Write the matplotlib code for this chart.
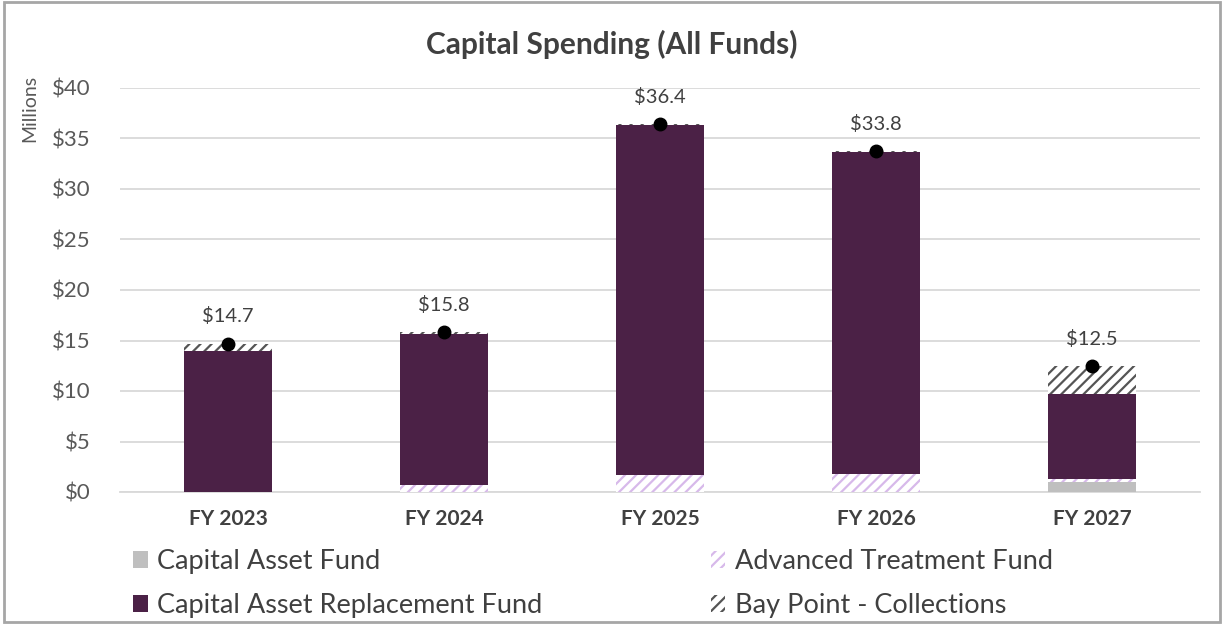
import matplotlib
matplotlib.use("Agg")
import matplotlib.pyplot as plt
from matplotlib.patches import Patch, Rectangle

plt.rcParams['font.family'] = ['Lato', 'DejaVu Sans']
plt.rcParams['hatch.linewidth'] = 1.6

years = ["FY 2023", "FY 2024", "FY 2025", "FY 2026", "FY 2027"]
capital_asset = [0.0, 0.0, 0.0, 0.0, 1.0]
advanced_treatment = [0.0, 0.7, 1.7, 1.8, 0.3]
replacement = [14.0, 14.9, 34.6, 31.9, 8.4]
bay_point = [0.7, 0.2, 0.1, 0.1, 2.8]
totals = [14.7, 15.8, 36.4, 33.8, 12.5]
y_ticks = [0, 5, 10, 15, 20, 25, 30, 35, 40]

plum = "#4b2146"
gray = "#bfbfbf"
lavender = "#d7b9ea"
hatch_gray = "#555555"

fig = plt.figure(figsize=(12.24, 6.24), dpi=100)
ax = fig.add_axes([120 / 1224, 1 - 492 / 624, 1080 / 1224, 404 / 624])

x = list(range(len(years)))
w = 0.41

b0 = [0.0] * len(years)
ax.bar(x, capital_asset, w, bottom=b0, color=gray, linewidth=0, zorder=3)
b1 = [a + b for a, b in zip(b0, capital_asset)]
ax.bar(x, advanced_treatment, w, bottom=b1, color="white", edgecolor=lavender,
       hatch="///", linewidth=0, zorder=3)
b2 = [a + b for a, b in zip(b1, advanced_treatment)]
ax.bar(x, replacement, w, bottom=b2, color=plum, linewidth=0, zorder=3)
b3 = [a + b for a, b in zip(b2, replacement)]
ax.bar(x, bay_point, w, bottom=b3, color="white", edgecolor=hatch_gray,
       hatch="///", linewidth=0, zorder=3)

ax.plot(x, totals, linestyle="none", marker="o", markersize=9,
        color="black", zorder=5)
for xi, t in zip(x, totals):
    ax.annotate(f"${t:.1f}", (xi, t), xytext=(0, 13), textcoords="offset points",
                ha="center", va="bottom", fontsize=14.5, color="#404040")

ax.set_xlim(-0.5, len(years) - 0.5)
ax.set_ylim(0, 40)
ax.set_yticks(y_ticks)
ax.set_yticklabels([f"${v}" for v in y_ticks], fontsize=16, color="#595959")
ax.set_xticks(x)
ax.set_xticklabels(years, fontsize=15, fontweight="bold", color="#404040")
ax.tick_params(axis="both", length=0)
ax.tick_params(axis="y", pad=21)
ax.tick_params(axis="x", pad=12)
ax.grid(axis="y", color="#d9d9d9", linewidth=1.3, zorder=0)
for side in ["left", "right", "top"]:
    ax.spines[side].set_visible(False)
ax.spines["bottom"].set_color("#d9d9d9")
ax.spines["bottom"].set_linewidth(1.3)

fig.text(30 / 1224, 1 - 108 / 624, "Millions", rotation=90, ha="center",
         va="center", fontsize=14, color="#595959")
fig.text(0.5, 1 - 44 / 624, "Capital Spending (All Funds)", ha="center",
         va="center", fontsize=21.5, fontweight="bold", color="#404040")

handles = [
    Patch(facecolor=gray, linewidth=0),
    Patch(facecolor=plum, linewidth=0),
    Patch(facecolor="white", edgecolor=lavender, hatch="///", linewidth=0),
    Patch(facecolor="white", edgecolor=hatch_gray, hatch="///", linewidth=0),
]
labels = ["Capital Asset Fund", "Capital Asset Replacement Fund",
          "Advanced Treatment Fund", "Bay Point - Collections"]
fig.legend(handles, labels, ncol=2, loc="upper left",
           bbox_to_anchor=(133 / 1224, 1 - 549 / 624), frameon=False,
           fontsize=19.5, labelcolor="#404040", handlelength=0.55,
           handleheight=0.55, handletextpad=0.35, columnspacing=6.2,
           labelspacing=0.7, borderaxespad=0, borderpad=0)

fig.patches.append(Rectangle((0.003, 0.003), 0.994, 0.994, transform=fig.transFigure,
                             fill=False, edgecolor="#a6a6a6", linewidth=2))

fig.savefig("out.png", dpi=100, facecolor="white")
